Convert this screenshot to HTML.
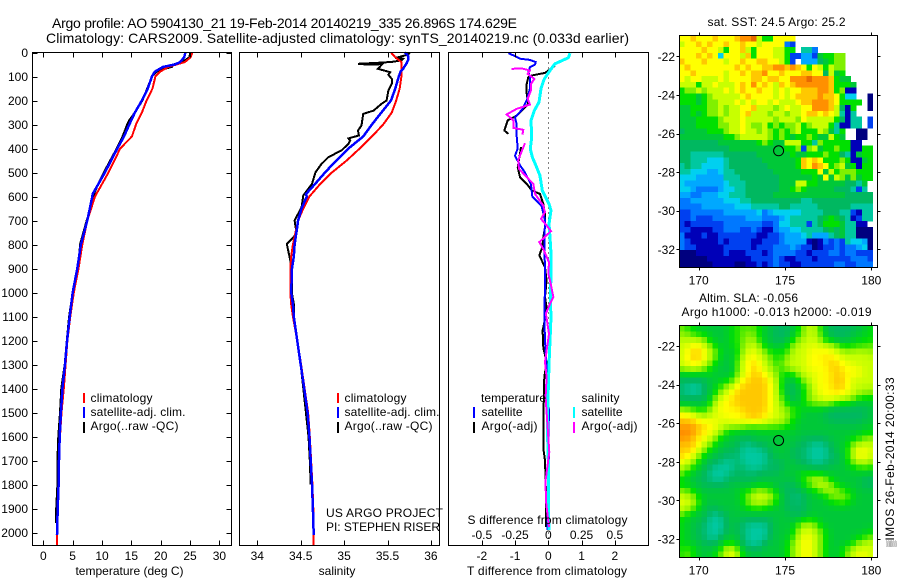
<!DOCTYPE html>
<html lang="en">
<head>
<meta charset="utf-8">
<title>Argo profile 5904130_21</title>
<style>
html,body{margin:0;padding:0;background:#fff;}
svg{display:block;}
text{font-family:"Liberation Sans","DejaVu Sans",sans-serif;font-size:12px;fill:#000;}
.ttl{font-size:14px;}
</style>
</head>
<body>
<svg id="fig" xmlns="http://www.w3.org/2000/svg" width="900" height="580" viewBox="0 0 900 580">
  <rect x="0" y="0" width="900" height="580" fill="#fff"/>
  <text class="ttl" x="52" y="28" textLength="465" lengthAdjust="spacing">Argo profile: AO 5904130_21 19-Feb-2014 20140219_335 26.896S 174.629E</text>
  <text class="ttl" x="46" y="43" textLength="583" lengthAdjust="spacing">Climatology: CARS2009. Satellite-adjusted climatology: synTS_20140219.nc (0.033d earlier)</text>
  <g id="marks"></g>

  <text x="129.5" y="575" text-anchor="middle">temperature (deg C)</text>
  <text x="337" y="575" text-anchor="middle">salinity</text>
  <text x="467" y="575" textLength="160" lengthAdjust="spacing">T difference from climatology</text>
  <text x="467.5" y="524" textLength="160" lengthAdjust="spacing">S difference from climatology</text>

  <g>
    <rect x="83" y="393" width="2" height="10" fill="#f00"/>
    <rect x="83" y="407" width="2" height="11" fill="#00f"/>
    <rect x="83" y="422" width="2" height="11" fill="#000"/>
    <text x="90.5" y="402" textLength="62" lengthAdjust="spacing">climatology</text>
    <text x="90.5" y="416" textLength="95" lengthAdjust="spacing">satellite-adj. clim.</text>
    <text x="90.5" y="430" textLength="88" lengthAdjust="spacing">Argo(..raw -QC)</text>
  </g>
  <g>
    <rect x="337" y="393" width="2" height="10" fill="#f00"/>
    <rect x="337" y="407" width="2" height="11" fill="#00f"/>
    <rect x="337" y="422" width="2" height="11" fill="#000"/>
    <text x="344.5" y="402" textLength="62" lengthAdjust="spacing">climatology</text>
    <text x="344.5" y="416" textLength="95" lengthAdjust="spacing">satellite-adj. clim.</text>
    <text x="344.5" y="430" textLength="88" lengthAdjust="spacing">Argo(..raw -QC)</text>
  </g>
  <text x="326" y="517" textLength="117" lengthAdjust="spacing">US ARGO PROJECT</text>
  <text x="326" y="531" textLength="114" lengthAdjust="spacing">PI: STEPHEN RISER</text>

  <g>
    <text x="481" y="402" textLength="65" lengthAdjust="spacing">temperature</text>
    <rect x="473" y="407" width="2" height="11" fill="#00f"/>
    <rect x="473" y="422" width="2" height="11" fill="#000"/>
    <text x="481.5" y="416" textLength="41" lengthAdjust="spacing">satellite</text>
    <text x="481.5" y="430" textLength="56" lengthAdjust="spacing">Argo(-adj)</text>
    <text x="581.5" y="402" textLength="38" lengthAdjust="spacing">salinity</text>
    <rect x="573" y="407" width="2" height="11" fill="#0ff"/>
    <rect x="573" y="422" width="2" height="11" fill="#f0f"/>
    <text x="581.5" y="416" textLength="41" lengthAdjust="spacing">satellite</text>
    <text x="581.5" y="430" textLength="56" lengthAdjust="spacing">Argo(-adj)</text>
  </g>

  <text x="707.5" y="26" textLength="138" lengthAdjust="spacing">sat. SST: 24.5 Argo: 25.2</text>
  <text x="699" y="302" textLength="99" lengthAdjust="spacing">Altim. SLA: -0.056</text>
  <text x="681.5" y="316" textLength="190" lengthAdjust="spacing">Argo h1000: -0.013 h2000: -0.019</text>
  <text transform="translate(894,547) rotate(-90)"><tspan font-size="9">▒</tspan><tspan style="letter-spacing:.44px">IMOS 26-Feb-2014 20:00:33</tspan></text>
</svg>

<script>
/* ---------- temperature panel data ---------- */
const climTempDepth = [0,20,40,50,60,80,100,150,200,250,300,350,400,500,600,700,800,900,1000,1100,1200,1300,1400,1500,1600,1700,1800,1900,2000,2055];
const climTemp = [25.4,25.1,24.1,22.7,21.3,19.9,19.1,18.6,17.6,16.8,15.8,15.1,13.1,11.1,8.8,7.5,6.65,6.0,5.2,4.6,4.1,3.8,3.5,3.1,2.85,2.7,2.6,2.5,2.35,2.3];
const satTempDepth = [0,20,40,50,60,80,100,150,200,250,300,350,400,500,590,600,700,800,900,1000,1100,1200,1300,1400,1500,1600,1700,1800,1900,2010];
const satTemp = [24.2,24.0,23.3,22.4,20.4,19.0,18.5,17.8,16.8,15.6,14.65,13.75,12.6,10.5,8.4,8.35,7.5,6.4,5.8,5.0,4.5,4.05,3.7,3.25,3.0,2.8,2.68,2.6,2.45,2.33];
const argoTempDepth = [0,20,40,50,60,70,80,100,150,200,250,280,300,350,400,450,500,550,600,650,700,800,900,1000,1100,1200,1300,1400,1500,1600,1700,1800,1900,1960];
const argoTemp = [25.0,24.9,23.6,22.1,21.9,20.4,19.3,18.5,17.7,16.9,15.6,14.7,14.3,13.5,12.5,11.4,10.3,9.3,8.5,8.0,7.4,6.25,6.0,5.0,4.4,4.0,3.65,3.07,2.85,2.56,2.4,2.4,2.2,2.2];
const tempTicks = [0,5,10,15,20,25,30];

/* ---------- salinity panel data ---------- */
const climSalDepth = [0,20,40,60,100,150,200,250,300,350,400,450,500,550,600,650,700,750,800,850,900,1000,1050,1100,1200,1300,1400,1500,1600,1700,1800,1900,2000,2055];
const climSal = [35.54,35.59,35.66,35.66,35.66,35.64,35.6,35.55,35.45,35.32,35.18,35.03,34.86,34.72,34.6,34.53,34.47,34.44,34.41,34.39,34.38,34.38,34.39,34.41,34.46,34.505,34.545,34.585,34.605,34.62,34.635,34.645,34.65,34.65];
const satSalDepth = [0,15,30,45,68,80,100,150,200,250,300,350,400,450,500,550,590,600,650,700,750,800,850,900,1000,1050,1100,1200,1300,1400,1500,1600,1700,1800,1900,2010];
const satSal = [35.70,35.74,35.74,35.72,35.68,35.65,35.63,35.59,35.54,35.43,35.32,35.22,35.05,34.91,34.78,34.66,34.56,34.57,34.51,34.47,34.45,34.43,34.42,34.40,34.39,34.41,34.42,34.46,34.5,34.54,34.58,34.60,34.615,34.63,34.64,34.65];
const argoSalDepth = [3,12,19,22,26,33,39,43,47,50,50,44,68,82,93,110,131,158,200,214,242,256,304,325,346,358,367,381,408,436,464,499,547,596,644,700,749,769,797,867,894,922,1006,1047,1100,1200,1300,1400,1500,1600,1700,1800];
const argoSal = [35.76,35.70,35.63,35.59,35.68,35.66,35.55,35.39,35.16,35.26,35.39,35.45,35.39,35.53,35.51,35.55,35.55,35.51,35.49,35.43,35.34,35.22,35.20,35.16,35.17,35.05,35.07,35.05,34.97,34.82,34.74,34.67,34.63,34.53,34.51,34.43,34.45,34.42,34.34,34.38,34.40,34.40,34.40,34.42,34.42,34.46,34.50,34.53,34.56,34.59,34.605,34.615];
const salTicks = [34,34.5,35,35.5,36];

/* ---------- difference panel data ---------- */
const tDiffSatDepth = [3,12,26,31,40,50,61,81,100,150,200,240,270,300,350,400,430,470,500,550,600,640,700,800,900,1000,1050,1100,1200,1300,1400,1500,1600,1700,1800,1900,1990];
const tDiffSat = [-1.2,-1.05,-0.85,-0.55,-0.38,-0.4,-0.55,-0.6,-0.55,-0.55,-0.65,-0.8,-1.0,-0.95,-0.95,-0.92,-1.0,-0.85,-0.7,-0.52,-0.48,-0.2,-0.1,-0.12,-0.1,-0.1,-0.12,-0.12,-0.1,-0.06,-0.02,0.02,0,0.02,0,-0.02,-0.02];
const tDiffArgoDepth = [54,61,85,96,103,131,172,214,228,263,283,325,339,339,394,422,478,519,547,575,589,631,672,728,769,811,846,894,950,1019,1061,1100,1158,1230,1290,1353,1490,1658,1700,1840,1978];
const tDiffArgo = [0.2,0.15,-0.1,-0.5,-0.6,-0.65,-0.65,-0.6,-0.7,-0.95,-1.22,-1.32,-1.2,null,-0.82,-0.85,-0.92,-0.85,-0.65,-0.5,-0.25,-0.15,-0.1,-0.1,-0.15,-0.18,-0.27,-0.1,-0.05,-0.1,-0.05,-0.08,-0.17,-0.15,-0.05,-0.12,-0.14,-0.14,-0.1,-0.07,-0.07];
const sDiffSatDepth = [3,22,47,75,110,151,207,242,283,353,401,436,478,512,575,631,658,714,769,839,922,1033,1100,1200,1300,1400,1500,1600,1700,1800,1900,1990];
const sDiffSat = [0.163,0.15,0.05,0.0125,-0.03,-0.055,-0.07,-0.105,-0.13,-0.125,-0.135,-0.12,-0.088,-0.063,-0.045,0.005,0.02,0.005,0.0125,0.02,0.02,0.015,0.02,0.0125,0.005,0,-0.005,-0.005,0,0,0,0.005];
const sDiffArgoDepth = [68,67,75,89,110,131,158,193,217,235,258,283,314,322,342,342,378,429,450,485,526,547,589,638,665,693,721,744,790,818,874,922,950,1019,1047,1088,1172,1290,1353,1436,1665,1783,1867,1978];
const sDiffArgo = [-0.276,-0.195,-0.138,-0.155,-0.105,-0.13,-0.13,-0.155,-0.138,-0.238,-0.313,-0.263,-0.263,-0.188,-0.195,null,-0.175,-0.213,-0.226,-0.22,-0.15,-0.113,-0.1,-0.038,-0.025,-0.055,-0.013,0.02,-0.068,-0.038,0.005,0,0.0125,0.038,0.0125,-0.018,0.005,-0.025,-0.0125,-0.02,0.0075,-0.02,-0.018,0.005];
const tDiffTicks = [-2,-1,0,1,2];
const sDiffTicks = [-0.5,-0.25,0,0.25,0.5];
const depthTicks = [0,100,200,300,400,500,600,700,800,900,1000,1100,1200,1300,1400,1500,1600,1700,1800,1900,2000];

/* ---------- map data: one character per cell, colour level 0-f, '.' = no data ---------- */
const lonTicks = [170,175,180];
const latTicks = [22,24,26,28,30,32];
const sstRows = [
"ccdcc cdccc deefb 99ccc c.... ..... .....",
"bccdc dccdc cdccb cccc3 2.... ..... .....",
"ccccd ccb9c cdb9c ccbb9 9.663 ..... .....",
"cccdc dc5cc cbd9c ccbb9 22442 899aa .....",
"dcccd cccbc cdccd dccb9 2.444 789aa .....",
"cdccc ccccc dcdcc ddeed edc9c b9baa .....",
"ccdcc cccbc cdcdd eccdc ccddc c7b89 .....",
"cbccb bbcbc cccdd cddcc eeefe eed98 8....",
"bbb9b bcbbb cdcec dcbdc deeee eed99 98...",
"9aaba bbbcb cdccd ccbcb ccddd eed9a 11...",
"99989 abbbb bcdcc ccbcb cdddd eddc9 55..0",
"99989 aabbb cbcbc cbcbb bcdde eedc9 999.0",
"88999 aabab bccdb bbabc bbcce eedb7 19..0",
"88989 aabab bcdbb babba bbcdd cdcb6 16...",
"88899 99abb bcbbb bbabb bacbb bbb97 166.2",
"88899 99aab bcbaa b9a9a ab9ab bb961 166.2",
"78888 999ab bcbba ba9a9 ab999 ba869 ..00.",
"88888 88899 abbbb ba9a9 899a9 88b98 ..00.",
"77777 77888 88889 a988b bb996 a9999 911..",
"77777 77778 88888 88889 9a2ab 899a9 91199",
"77666 66677 77778 88888 98899 9a997 61899",
"77666 55567 77777 88888 89dcd c999a 91189",
"67665 55567 77777 78888 89dce dc9ab 89199",
"66555 44566 77777 77888 88999 c8b9a aa999",
"55544 44466 67777 77788 88889 8c8ba 8a899",
"54444 44456 66777 77788 8bb99 88888 7768.",
"55433 33455 66777 77788 9a988 88877 7626.",
"44334 44556 66777 77888 88888 88888 77777",
"33444 44455 56677 77777 77667 77777 77777",
"33334 44444 55566 66677 66666 77777 76666",
"22333 33344 44445 34555 55666 67776 62166",
"22322 23333 33444 33345 66666 78987 61266",
"21222 22233 33333 22355 66626 79998 6611.",
"22111 12233 32232 11344 55666 67878 66000",
"31112 11222 22221 12234 44564 44678 66000",
"32111 11212 22211 22234 44410 13232 65540",
"32211 11122 22212 22333 43220 12232 33450",
"00011 11121 11222 12333 32212 22332 33222",
"00000 11111 11122 22321 12221 22222 23332",
"00000 01111 00112 12322 11222 22233 22333"
];
const slaRows = [
"a9988 88889 9a9a9 88777 89abb 98777 77889",
"aa999 88889 9aaa9 88777 89abb a8777 78889",
"bbbba 98889 9aab9 88778 9abbb a9887 88999",
"bbccb a9889 9abba 98889 abbbc bbba9 9999a",
"bcddc ba988 9abcb a9999 bbbcc cccbb abbba",
"bcddc ba888 9bccb ba99a bbbcc cdccb bbbbb",
"bcccb a9888 abcdc ba9ab bbbcc ccddc cbbbb",
"abbba 98887 abcdc bba9a bbbcc ccddc cccbb",
"88888 98888 abcdd cba99 8abbb cccdd cccbb",
"77777 88899 bcddd dcb98 89abc ccddd cbbbb",
"76667 88aab cdddd dcb97 789ab cccdd cbbbb",
"76667 89abc ddddd dcb98 789ab cccdc cbbaa",
"77777 8abcc ddddd dcba8 789ab bccbb ba999",
"88888 9bccd ddddd dcba9 889aa aaa99 98888",
"aa999 abccc cdddd dcbba a9888 88777 77778",
"dccba bbccc ccddd ccbba 99888 87777 77778",
"dddcc ccbbc cccdc cbbba 98888 88777 77788",
"eeedd ccbba aa999 a9a99 98888 88888 88888",
"eeedc cba98 88888 88888 88888 88888 88899",
"eedcc ba988 87788 88888 88777 77888 899aa",
"dddcb a9888 77677 78888 87776 67788 9abbb",
"dddba 98877 76666 77888 77766 66788 9bccb",
"dcba9 88777 76666 67888 77766 66778 9bccb",
"cbb98 77766 76666 67778 87776 67778 9abba",
"ba988 76666 77666 77778 88777 77888 899a9",
"a9887 66667 77777 77788 88a99 98888 88888",
"98877 76677 77778 88888 889ab ba988 88877",
"98887 77778 88888 88877 789aa bba98 88877",
"aa988 88888 899ab aa887 77889 aabaa 98888",
"bba98 88888 89abb bba87 76788 89aaa a9888",
"cbba8 88888 89abb ba987 77788 8899a 98888",
"bba88 77888 88999 98887 77788 88888 88888",
"a9888 76778 88888 88888 77788 88888 88888",
"98887 66678 87777 77888 88999 88888 88888",
"98877 66678 77666 67888 8abba 98888 88888",
"98877 66678 77666 67888 9abbb a9888 88889",
"98877 66788 87666 67888 9bccb a9888 8899a",
"98887 77899 87666 78889 abccb a9888 89abb",
"9a988 889bb a8777 88889 abccb a9889 abbbb",
"9a988 89abc b9888 88889 abccb a9889 abccb"
];
const profileLon = 174.629;
const profileLat = 26.896;

/* ---------- drawing ---------- */
const NS = 'http://www.w3.org/2000/svg';
const marks = document.getElementById('marks');
function make(tag, attrs, parent){
  const e = document.createElementNS(NS, tag);
  for (const k in attrs) e.setAttribute(k, attrs[k]);
  (parent || marks).appendChild(e);
  return e;
}
const yDepth = d => 52.5 + 0.24 * d;
const xTemp = t => 43.3 + 5.87 * t;
const xSal = s => 257.3 + 86.8 * (s - 34);
const xTDiff = t => 548.3 + 33.25 * t;
const xSDiff = s => 548.3 + 133 * s;

function series(name, depths, values, xf, color, width){
  let seg = [];
  const flush = () => {
    if (seg.length > 1) {
      const line = make('polyline', {points: seg.join(' '), fill: 'none', stroke: color, 'stroke-width': width || 2, 'shape-rendering': 'crispEdges'});
      
      
    }
    seg = [];
  };
  values.forEach((v, i) => {
    if (v === null) { flush(); return; }
    seg.push(xf(v).toFixed(1) + ',' + yDepth(depths[i]).toFixed(1));
  });
  flush();
}
function label(name, x, y, str, anchor){
  const t = make('text', {x: x, y: y, 'text-anchor': anchor || 'middle'});
  t.textContent = str;
  
  
  return t;
}
function hair(name, x1, y1, x2, y2){
  const l = make('line', {x1: x1, y1: y1, x2: x2, y2: y2, stroke: '#000', 'stroke-width': 1, 'shape-rendering': 'crispEdges'});
  
  
}
function frame(name, l, t, r, b){
  const f = make('rect', {x: l, y: t, width: r - l, height: b - t, fill: 'none', stroke: '#000', 'stroke-width': 1, 'shape-rendering': 'crispEdges'});
  
  
}
function xAxis(ticks, xf, top, bottom, labelY, prefix){
  ticks.forEach(v => {
    const x = Math.round(xf(v)) + 0.5;
    hair(prefix + '-tick-top', x, top, x, top + 5);
    hair(prefix + '-tick-bottom', x, bottom - 5, x, bottom);
    if (labelY) label(prefix + '-tick-label', xf(v), labelY, String(v));
  });
}

/* temperature panel */
series('argo-temperature-line', argoTempDepth, argoTemp, xTemp, '#000');
series('climatology-temperature-line', climTempDepth, climTemp, xTemp, '#f00');
series('satellite-temperature-line', satTempDepth, satTemp, xTemp, '#00f', 2.5);
frame('temperature-panel-frame', 32.5, 52.5, 231.5, 545.5);
xAxis(tempTicks, xTemp, 52.5, 545.5, 560, 'temperature-axis');
depthTicks.forEach(d => {
  const y = Math.round(yDepth(d)) + 0.5;
  hair('depth-tick-left', 32.5, y, 37.5, y);
  hair('depth-tick-right', 226.5, y, 231.5, y);
  label('depth-tick-label', 28, yDepth(d) + 4.5, String(d), 'end');
});

/* salinity panel */
series('argo-salinity-line', argoSalDepth, argoSal, xSal, '#000');
series('climatology-salinity-line', climSalDepth, climSal, xSal, '#f00');
series('satellite-salinity-line', satSalDepth, satSal, xSal, '#00f', 2.5);
frame('salinity-panel-frame', 239.5, 52.5, 439.5, 545.5);
xAxis(salTicks, xSal, 52.5, 545.5, 560, 'salinity-axis');

/* difference panel */
const zero = make('line', {x1: xTDiff(0), y1: 52.5, x2: xTDiff(0), y2: 545.5, stroke: '#000', 'stroke-width': 1, 'stroke-dasharray': '1 4', 'shape-rendering': 'crispEdges'});


series('t-difference-argo-line', tDiffArgoDepth, tDiffArgo, xTDiff, '#000');
series('t-difference-satellite-line', tDiffSatDepth, tDiffSat, xTDiff, '#00f');
series('s-difference-satellite-line', sDiffSatDepth, sDiffSat, xSDiff, '#0ff', 3);
series('s-difference-argo-line', sDiffArgoDepth, sDiffArgo, xSDiff, '#f0f');
frame('difference-panel-frame', 448.5, 52.5, 648.5, 545.5);
xAxis(tDiffTicks, xTDiff, 52.5, 545.5, 560, 't-difference-axis');
sDiffTicks.forEach(v => {
  label('s-difference-tick-label', xSDiff(v), 539, String(v));
});

/* maps */
const palette = [[0,0,127],[0,0,184],[0,64,240],[0,120,255],[0,168,255],[0,208,240],[0,200,160],[0,184,96],[0,200,56],[0,224,0],[128,240,0],[200,255,0],[255,255,0],[255,200,0],[255,144,0],[232,104,0]];
function levelColor(v){
  const i = Math.max(0, Math.min(14, Math.floor(v)));
  const f = Math.min(1, v - i);
  const c = palette[i].map((p, k) => Math.round(p + (palette[i + 1][k] - p) * f));
  return 'rgb(' + c.join(',') + ')';
}
function parseGrid(rows){
  return rows.map(row => Array.from(row.replace(/ /g, '')).map(ch => ch === '.' ? null : parseInt(ch, 16)));
}
function smoothGrid(grid){
  const kernel = [[1,2,1],[2,4,2],[1,2,1]];
  return grid.map((row, r) => row.map((v, c) => {
    if (v === null) return null;
    let sum = 0, w = 0;
    for (let dr = -1; dr <= 1; dr++) for (let dc = -1; dc <= 1; dc++) {
      const n = (grid[r + dr] || [])[c + dc];
      if (n === null || n === undefined) continue;
      sum += n * kernel[dr + 1][dc + 1];
      w += kernel[dr + 1][dc + 1];
    }
    return sum / w;
  }));
}
function drawMap(name, grid, top, bottom, latZero){
  const xLon = lon => 698.7 + (lon - 170) * 17.26;
  const yLat = lat => latZero + (lat - 22) * 19.3;
  const lon0 = 168.87, dLon = 0.3205;
  const lat0 = 22 + (top - latZero) / 19.3, dLat = (bottom - top) / 40 / 19.3;
  grid.forEach((row, r) => {
    row.forEach((v, c) => {
      if (v === null) return;
      const x0 = xLon(lon0 + c * dLon), x1 = xLon(lon0 + (c + 1) * dLon);
      const y0 = yLat(lat0 + r * dLat), y1 = yLat(lat0 + (r + 1) * dLat);
      const cell = make('rect', {x: x0.toFixed(2), y: y0.toFixed(2), width: (x1 - x0 + 0.3).toFixed(2), height: (y1 - y0 + 0.3).toFixed(2), fill: levelColor(v), 'shape-rendering': 'crispEdges'});
      
      
    });
  });
  frame(name + '-frame', 679.5, top, 877.5, bottom);
  lonTicks.forEach(v => {
    const x = Math.round(xLon(v)) + 0.5;
    hair(name + '-lon-tick-top', x, top - 3, x, top);
    hair(name + '-lon-tick-bottom', x, bottom, x, bottom + 3);
    label(name + '-lon-tick-label', xLon(v), bottom + 17, String(v));
  });
  latTicks.forEach(v => {
    const y = Math.round(yLat(v)) + 0.5;
    hair(name + '-lat-tick-left', 676.5, y, 679.5, y);
    hair(name + '-lat-tick-right', 877.5, y, 880.5, y);
    label(name + '-lat-tick-label', 675, yLat(v) + 4.5, String(-v), 'end');
  });
  const marker = make('circle', {cx: xLon(profileLon), cy: yLat(profileLat), r: 5, fill: 'none', stroke: '#000', 'stroke-width': 1});
  
  
}
drawMap('sst-map', parseGrid(sstRows), 35.5, 267.5, 56.3);
drawMap('sla-map', smoothGrid(parseGrid(slaRows)), 325.5, 557.5, 346);
</script>
</body>
</html>
